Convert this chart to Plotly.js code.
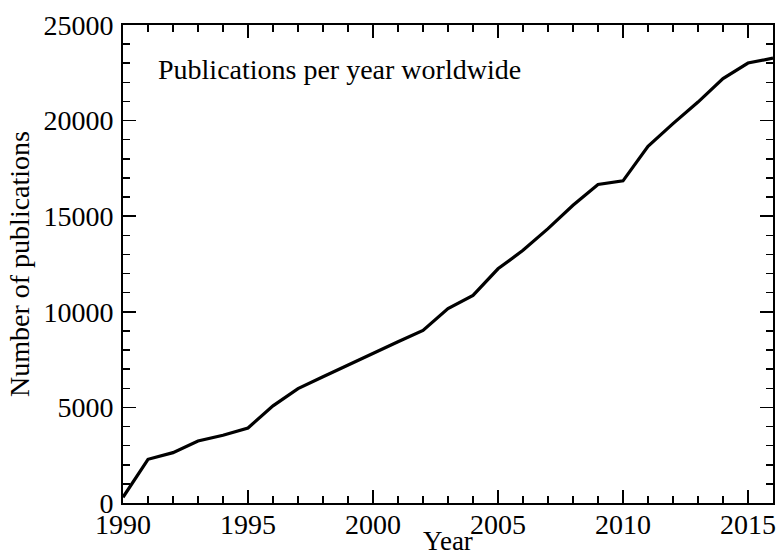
<!DOCTYPE html>
<html>
<head>
<meta charset="utf-8">
<script src="https://cdn.plot.ly/plotly-3.0.1.min.js"></script>
<style>html,body{margin:0;padding:0;background:#fff;}#chart{width:777px;height:556px;}</style>
</head>
<body>
<div id="chart"></div>
<script>
const years = [1990,1991,1992,1993,1994,1995,1996,1997,1998,1999,2000,2001,2002,2003,2004,2005,2006,2007,2008,2009,2010,2011,2012,2013,2014,2015,2016];
const publications = [300,2285,2635,3245,3540,3925,5080,5980,6600,7220,7850,8430,9030,10165,10860,12250,13215,14350,15570,16660,16850,18660,19840,20970,22200,23010,23270];
const annotationText = "Publications per year worldwide";

const serif = "Liberation Serif, Times New Roman, serif";
const trace = {
  x: years, y: publications, type: 'scatter', mode: 'lines',
  line: {color: '#000', width: 3.2}, hoverinfo: 'skip'
};
const axisCommon = {
  showgrid: false, zeroline: false, showline: true, linecolor: '#000', linewidth: 2,
  mirror: 'ticks', ticks: 'inside', ticklen: 13, tickwidth: 1.5, tickcolor: '#000',
  tickformat: 'd',
  tickfont: {family: serif, size: 28, color: '#000'}
};
const layout = {
  width: 777, height: 556,
  margin: {l: 123, r: 4, t: 25, b: 53},
  paper_bgcolor: '#fff', plot_bgcolor: '#fff',
  showlegend: false,
  xaxis: Object.assign({}, axisCommon, {
    range: [1990, 2016], tickmode: 'linear', tick0: 1990, dtick: 5,
    minor: {dtick: 1, ticks: 'inside', ticklen: 7, tickwidth: 1.5, tickcolor: '#000', showgrid: false},
    ticklabelstandoff: -5,
    title: {text: 'Year', font: {family: serif, size: 27, color: '#000'}, standoff: 4}
  }),
  yaxis: Object.assign({}, axisCommon, {
    range: [0, 25000], tickmode: 'linear', tick0: 0, dtick: 5000,
    minor: {dtick: 1000, ticks: 'inside', ticklen: 7, tickwidth: 1.5, tickcolor: '#000', showgrid: false},
    ticklabelstandoff: 2,
    title: {text: 'Number of publications', font: {family: serif, size: 28, color: '#000'}, standoff: 6}
  }),
  annotations: [{
    text: annotationText, xref: 'paper', yref: 'paper', x: 0.05, y: 0.907, xanchor: 'left', yanchor: 'middle',
    showarrow: false, font: {family: serif, size: 28, color: '#000'}
  }]
};
Plotly.newPlot('chart', [trace], layout, {displayModeBar: false, staticPlot: true});
</script>
</body>
</html>
